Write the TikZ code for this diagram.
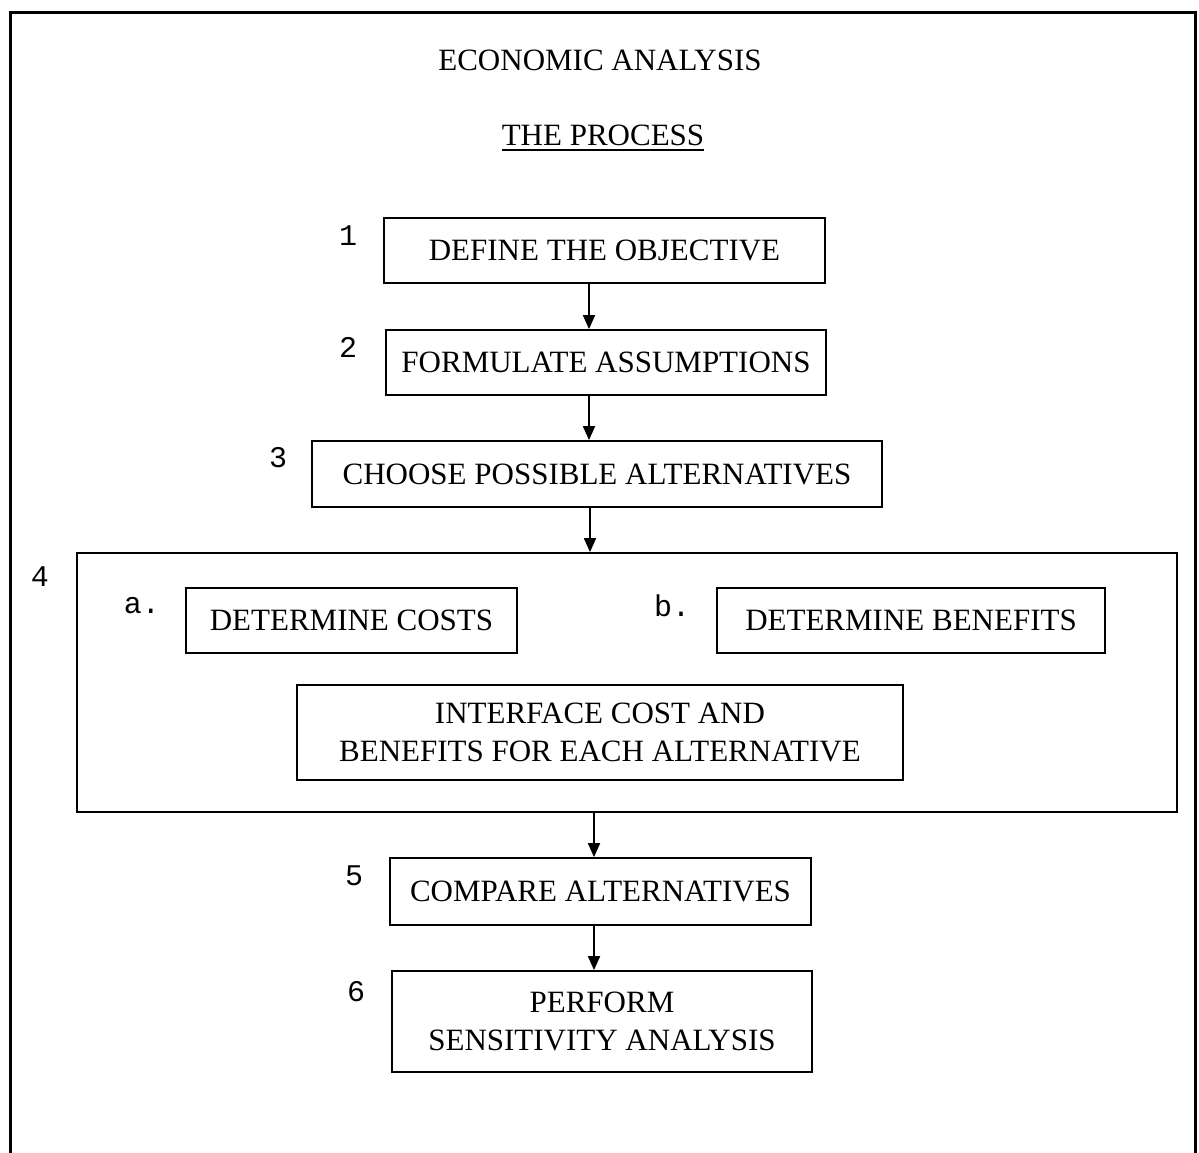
\documentclass[tikz,border=0pt]{standalone}
\usepackage{fontspec}
\setmainfont{Liberation Serif}
\newfontfamily\labfont{Liberation Mono}
\usetikzlibrary{arrows.meta}
\tikzset{
  txt/.style={font=\fontsize{31}{38}\selectfont, inner sep=0pt},
  procbox/.style={draw, line width=1.8pt, inner sep=0pt, align=center, font=\fontsize{31}{38}\selectfont},
  numlab/.style={font=\labfont\fontsize{30}{30}\selectfont, inner sep=0pt},
  arr/.style={line width=1.8pt, -{Triangle[width=12pt,length=14pt]}},
  frame/.style={line width=3pt}
}
\begin{document}
\begin{tikzpicture}[x=1pt,y=-1pt]
\useasboundingbox (0,0) rectangle (1199,1152);
\clip (0,0) rectangle (1199,1152);
\fill[white] (0,0) rectangle (1199,1152);
% outer frame (open at the bottom)
\coordinate (fbl) at (10,1170);
\coordinate (ftl) at (10,12);
\coordinate (ftr) at (1195,12);
\coordinate (fbr) at (1195,1170);
\draw[frame] (fbl) -- (ftl) -- (ftr) -- (fbr);
% titles
\node[txt] (title) at (600,60) {ECONOMIC ANALYSIS};
\node[txt, anchor=base] (sub) at (603,145) {THE PROCESS};
\draw[line width=1.5pt] (sub.base west) ++(0,5) coordinate (ul1) -- (ul1 -| sub.base east);
% boxes
\node[procbox, minimum width=441pt, minimum height=65pt] (b1) at (604.5,250.5) {DEFINE THE OBJECTIVE};
\node[procbox, minimum width=440pt, minimum height=65pt] (b2) at (606,362.5) {FORMULATE ASSUMPTIONS};
\node[procbox, minimum width=570pt, minimum height=66pt] (b3) at (597,474) {CHOOSE POSSIBLE ALTERNATIVES};
\node[procbox, minimum width=1100pt, minimum height=259pt] (b4) at (627,682.5) {};
\node[procbox, minimum width=331pt, minimum height=65pt] (ba) at (351.5,620.5) {DETERMINE COSTS};
\node[procbox, minimum width=388pt, minimum height=65pt] (bb) at (911,620.5) {DETERMINE BENEFITS};
\node[procbox, minimum width=606pt, minimum height=95pt] (bi) at (600,732.5) {INTERFACE COST AND\\BENEFITS FOR EACH ALTERNATIVE};
\node[procbox, minimum width=421pt, minimum height=67pt] (b5) at (600.5,891.5) {COMPARE ALTERNATIVES};
\node[procbox, minimum width=420pt, minimum height=101pt] (b6) at (602,1021.5) {PERFORM\\SENSITIVITY ANALYSIS};
% labels
\node[numlab] (l1) at (348,236) {1};
\node[numlab] (l2) at (348,347) {2};
\node[numlab] (l3) at (278,458) {3};
\node[numlab] (l4) at (40,577) {4};
\node[numlab] (la) at (142,606) {a.};
\node[numlab] (lb) at (672,606) {b.};
\node[numlab] (l5) at (354,876) {5};
\node[numlab] (l6) at (356,992) {6};
% arrows
\coordinate (x1) at (589,0);
\coordinate (x2) at (590,0);
\coordinate (x3) at (594,0);
\draw[arr] (b1.south -| x1) -- (b2.north -| x1);
\draw[arr] (b2.south -| x1) -- (b3.north -| x1);
\draw[arr] (b3.south -| x2) -- (b4.north -| x2);
\draw[arr] (b4.south -| x3) -- (b5.north -| x3);
\draw[arr] (b5.south -| x3) -- (b6.north -| x3);
\end{tikzpicture}
\end{document}
